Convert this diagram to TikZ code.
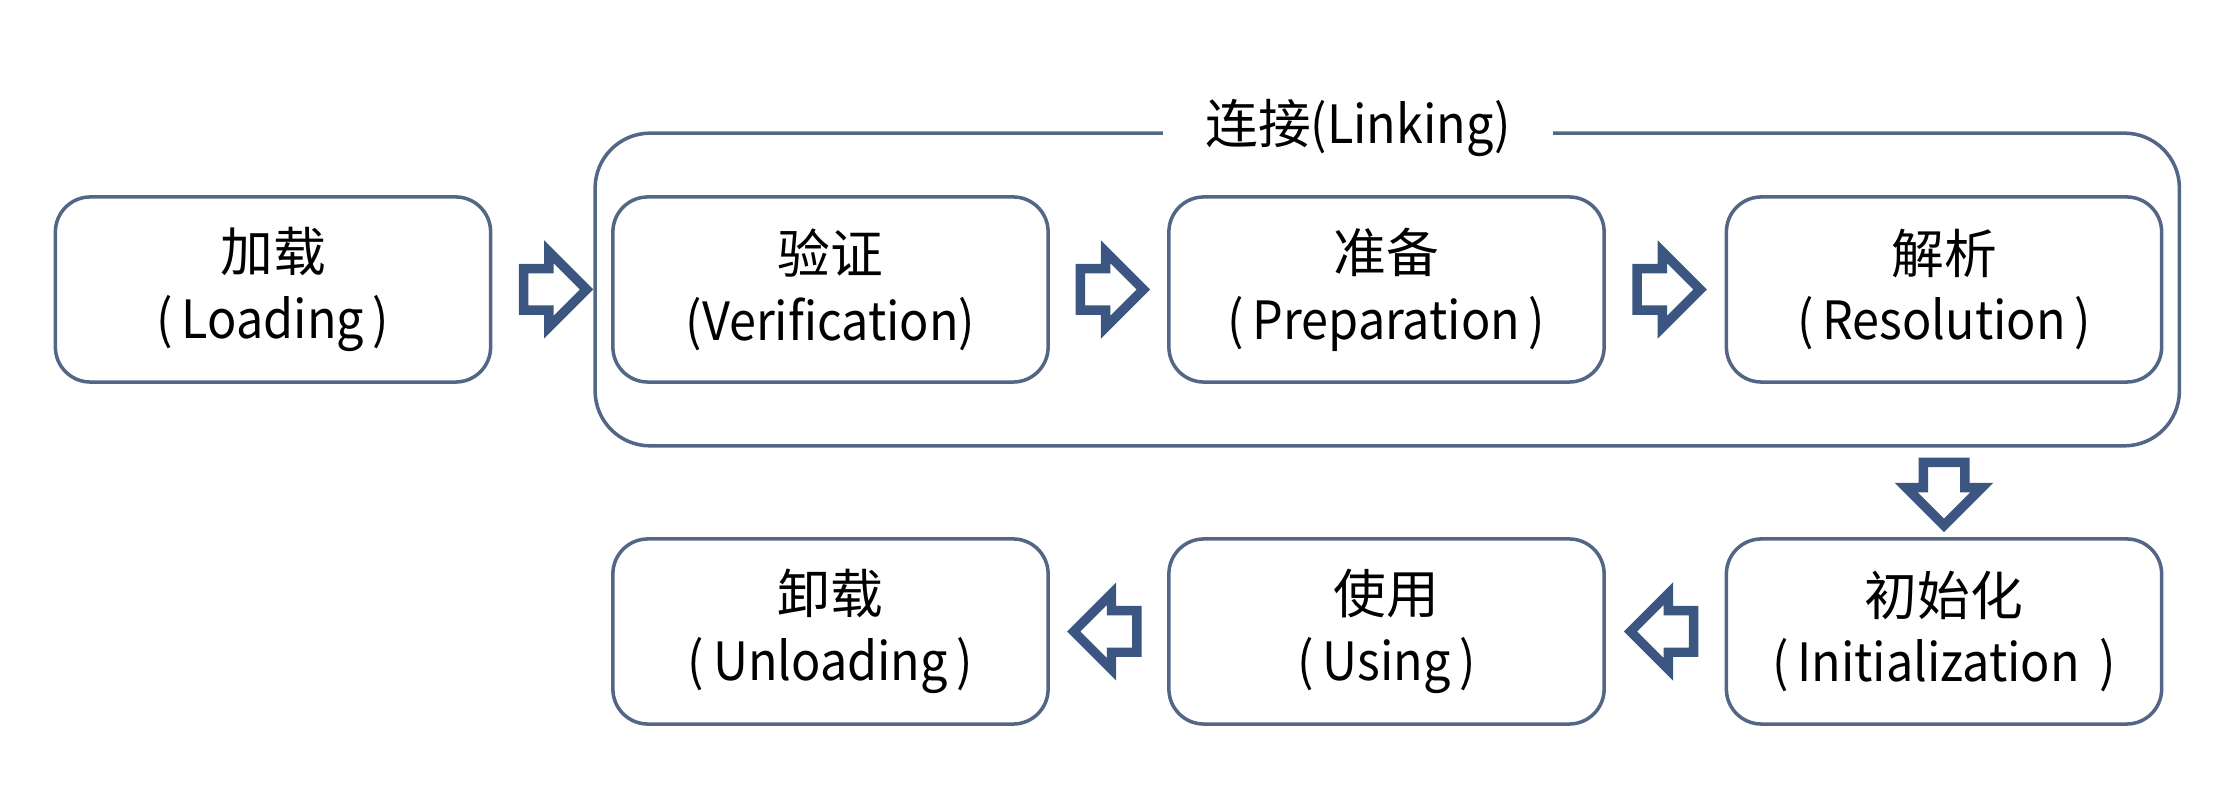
\documentclass[tikz,border=0pt]{standalone}
\usepackage{fontspec}
\setmainfont{Noto Sans CJK SC}
\newfontfamily\enfont[FakeStretch=0.92]{Noto Sans CJK SC}
\newcommand{\en}[1]{{\enfont #1}}
\usepackage{xcolor}
\usetikzlibrary{shapes.arrows,positioning,calc,fit}

\definecolor{boxline}{RGB}{84,102,133}
\definecolor{arrowblue}{RGB}{60,86,130}

\begin{document}
\begin{tikzpicture}
                [x=0.01cm, y=-0.01cm,
                stage/.style={draw=boxline, line width=1pt, rounded corners=0.35cm,
                    minimum width=4.35cm, minimum height=1.85cm, align=center,
                    font=\fontsize{15}{19}\selectfont},
                flow/.style={single arrow, draw=arrowblue, line width=2.7pt, fill=white,
                    inner xsep=0pt, inner ysep=0.16cm, minimum height=0.63cm,
                    single arrow head extend=0.17cm, single arrow tip angle=90,
                    anchor=tail},
                ]
                \useasboundingbox (0,0) rectangle (2236,804);

                \node[stage] (load)  at (273,289.5)   {加载\\\en{(\,Loading\,)}};
                \node[stage] (verif) at (830.5,289.5) {验证\\\en{(Verification)}};
                \node[stage] (prep)  at (1386.5,289.5) {准备\\\en{(\,Preparation\,)}};
                \node[stage] (resol) at (1944,289.5)  {解析\\\en{(\,Resolution\,)}};

                \node[stage] (unload) at (830.5,631.5)  {卸载\\\en{(\,Unloading\,)}};
                \node[stage] (use)    at (1386.5,631.5) {使用\\\en{(\,Using\,)}};
                \node[stage] (init)   at (1944,631.5)   {初始化\\\en{(\,Initialization\ \,)}};

                \node[draw=boxline, line width=1pt, rounded corners=0.55cm,
                    inner xsep=0.16cm, inner ysep=0.62cm, fit=(verif)(resol)] (linking) {};
                \node[fill=white, inner xsep=0.42cm, font=\fontsize{15}{19}\selectfont]
                    (linktitle) at (1358,128) {连接\en{(Linking)}};

                \node[flow] (l2v) at ($(load.east)!0.5!(verif.west) + (-33,0)$) {};
                \node[flow] (v2p) at ($(verif.east)!0.5!(prep.west) + (-33,0)$) {};
                \node[flow] (p2r) at ($(prep.east)!0.5!(resol.west) + (-33,0)$) {};
                \node[flow, rotate=-90] (r2i) at ($(linking.south -| init) + (0,10)$) {};
                \node[flow, rotate=180] (i2u) at ($(init.west)!0.5!(use.east) + (33,0)$) {};
                \node[flow, rotate=180] (u2d) at ($(use.west)!0.5!(unload.east) + (33,0)$) {};
            \end{tikzpicture}
\end{document}
